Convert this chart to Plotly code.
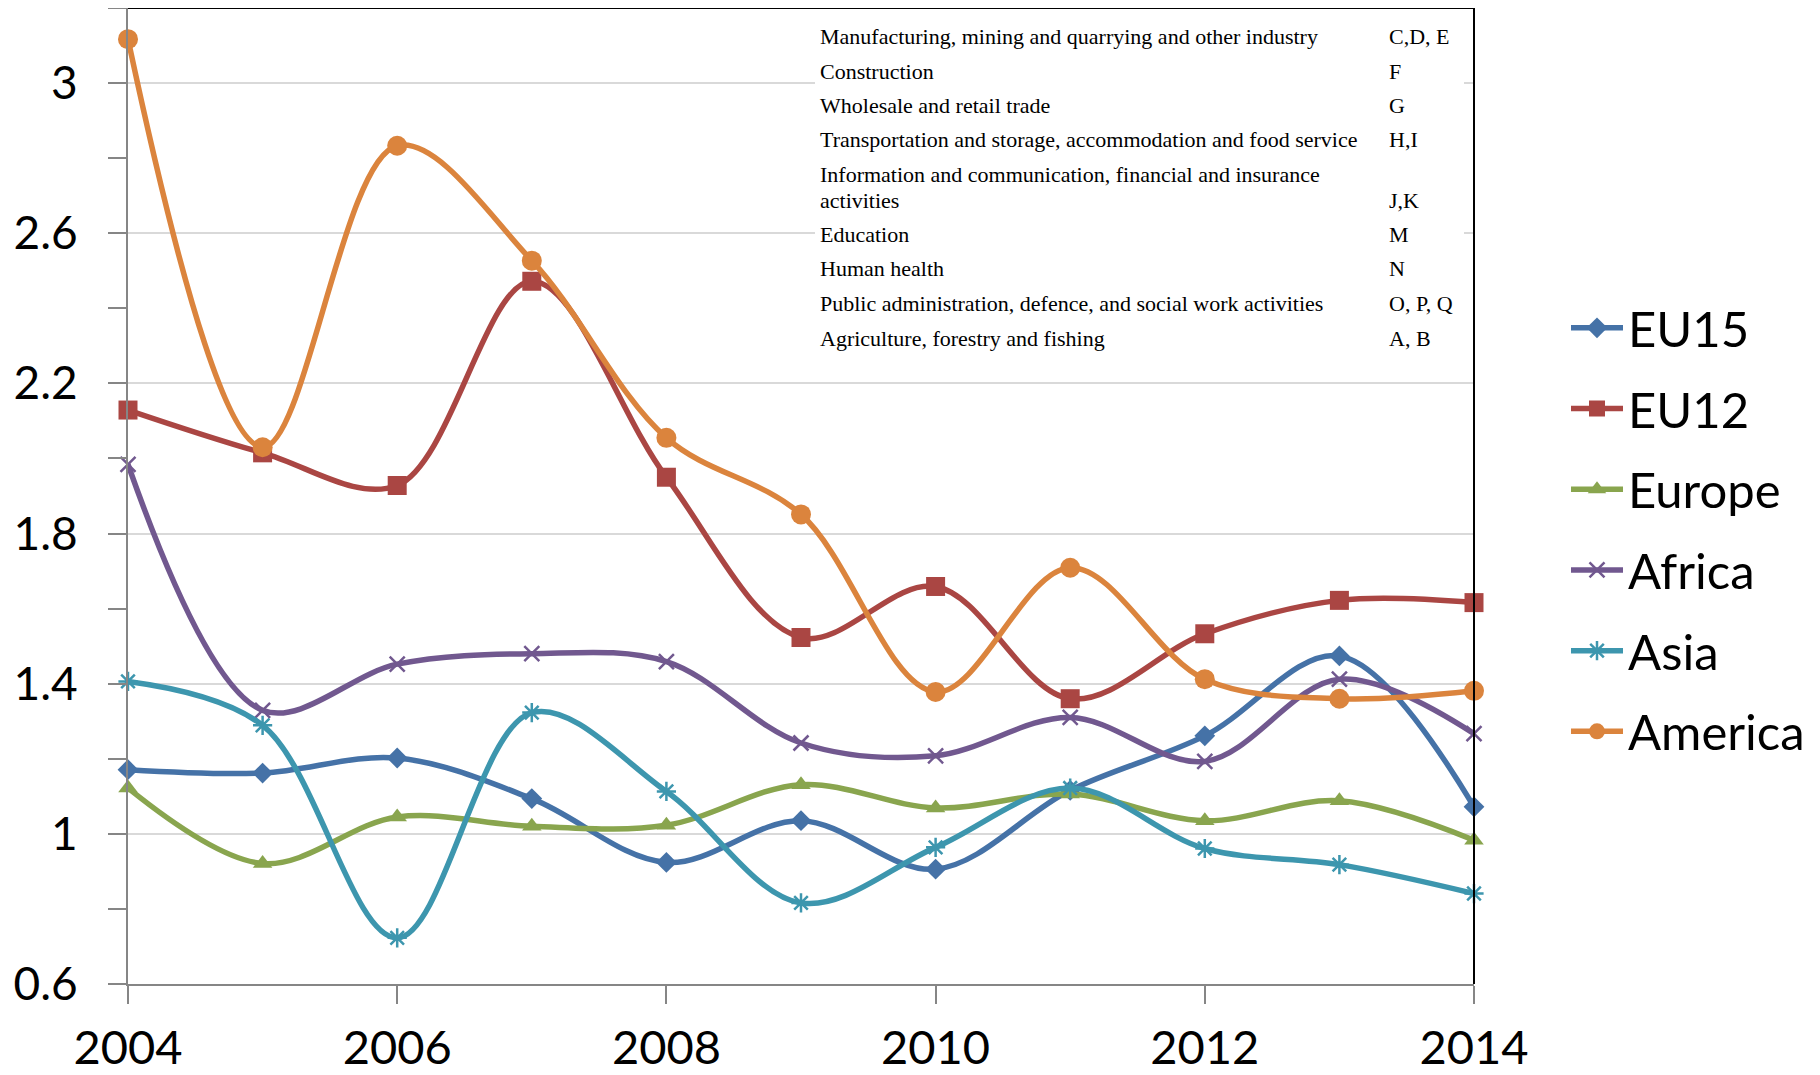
import plotly.graph_objects as go

years = [2004, 2005, 2006, 2007, 2008, 2009, 2010, 2011, 2012, 2013, 2014]

eu15 = [1.171, 1.162, 1.202, 1.094, 0.924, 1.035, 0.906, 1.116, 1.261, 1.474, 1.072]
eu12 = [2.129, 2.015, 1.928, 2.472, 1.950, 1.523, 1.659, 1.360, 1.533, 1.622, 1.616]
europe = [1.122, 0.921, 1.045, 1.020, 1.023, 1.131, 1.069, 1.106, 1.035, 1.088, 0.983]
africa = [1.984, 1.329, 1.452, 1.480, 1.459, 1.242, 1.208, 1.310, 1.193, 1.412, 1.267]
asia = [1.406, 1.289, 0.723, 1.323, 1.113, 0.816, 0.964, 1.122, 0.961, 0.918, 0.841]
america = [3.117, 2.030, 2.833, 2.527, 2.055, 1.851, 1.378, 1.709, 1.412, 1.360, 1.381]

series_names = ["EU15", "EU12", "Europe", "Africa", "Asia", "America"]
series_values = [eu15, eu12, europe, africa, asia, america]
colors = ["#4572A7", "#AA4643", "#89A54E", "#71588F", "#3D96AE", "#DB843D"]
symbols = ["diamond", "square", "triangle-up", "x-thin", "asterisk", "circle"]
sizes = [16, 19, 17, 15, 16, 20]

table_lines = [
    "Manufacturing, mining and quarrying and other industry",
    "Construction",
    "Wholesale and retail trade",
    "Transportation and storage, accommodation and food service",
    "Information and communication, financial and insurance",
    "activities",
    "Education",
    "Human health",
    "Public administration, defence, and social work activities",
    "Agriculture, forestry and fishing",
]
table_codes = ["C,D, E", "F", "G", "H,I", "", "J,K", "M", "N", "O, P, Q", "A, B"]

# page offset (browser body margin)
OFF = 8
W, H = 1820 - OFF, 1075 - OFF
L, R, T, B = 120, 346, 0, 91
pw, ph = W - L - R, H - T - B

def px_x(x):
    return (x - OFF - L) / pw

def px_y(y):
    return (H - B - (y - OFF)) / ph

fig = go.Figure()
for name, vals, c, s, sz in zip(series_names, series_values, colors, symbols, sizes):
    open_sym = s in ("x-thin", "asterisk")
    fig.add_trace(go.Scatter(
        x=years, y=vals, name=name, legendgroup=name,
        mode="lines+markers",
        line=dict(color=c, width=5.5, shape="spline", smoothing=1.0),
        marker=dict(symbol=s, size=sz, color=c,
                    line=dict(color=c, width=2.5 if open_sym else 0)),
        cliponaxis=False,
    ))

# table background box
fig.add_shape(type="rect", xref="paper", yref="paper",
              x0=px_x(815), x1=px_x(1464), y0=px_y(355), y1=px_y(14),
              fillcolor="white", line=dict(width=0), layer="above")
# black frame top/right
fig.add_shape(type="line", xref="paper", yref="paper", x0=0, x1=1, y0=1, y1=1,
              line=dict(color="black", width=2))
fig.add_shape(type="line", xref="paper", yref="paper", x0=1, x1=1, y0=0, y1=1,
              line=dict(color="black", width=2))

row_y = [37, 72, 106, 140, 175, 200, 234, 268, 303, 338]
for txt, code, ys in zip(table_lines, table_codes, row_y):
    fig.add_annotation(text=txt, xref="paper", yref="paper", x=px_x(818), y=px_y(ys),
                       xanchor="left", yanchor="middle", align="left", showarrow=False,
                       font=dict(family="Liberation Serif", size=22, color="black"))
    if code:
        fig.add_annotation(text=code, xref="paper", yref="paper", x=px_x(1387), y=px_y(ys),
                           xanchor="left", yanchor="middle", align="left", showarrow=False,
                           font=dict(family="Liberation Serif", size=22, color="black"))

fig.update_layout(
    width=W, height=H,
    margin=dict(l=L, r=R, t=T, b=B, pad=0, autoexpand=False),
    plot_bgcolor="white", paper_bgcolor="white",
    font=dict(family="Lato", color="black"),
    legend=dict(x=px_x(1566), y=px_y(530), xanchor="left", yanchor="middle",
                font=dict(family="Lato", size=49, color="black"),
                tracegroupgap=14, itemwidth=52, bgcolor="rgba(0,0,0,0)"),
    xaxis=dict(range=[2004, 2014], tick0=2004, dtick=2, showgrid=False,
               showline=True, linecolor="#868686", linewidth=2,
               ticks="outside", ticklen=18, tickcolor="#868686", tickwidth=1.5,
               tickfont=dict(family="Lato", size=47, color="black"),
               ticklabelstandoff=4, zeroline=False, automargin=False),
    yaxis=dict(range=[0.6, 3.2], tick0=0.6, dtick=0.4, showgrid=True,
               gridcolor="#D9D9D9", gridwidth=2,
               showline=True, linecolor="#868686", linewidth=2,
               ticks="outside", ticklen=18, tickcolor="#868686", tickwidth=1.5,
               minor=dict(dtick=0.2, tick0=0.6, ticks="outside", ticklen=18,
                          tickcolor="#868686", tickwidth=1.5, showgrid=False),
               tickfont=dict(family="Lato", size=46, color="black"),
               ticklabelstandoff=21, zeroline=False, automargin=False),
)

fig.write_html("out.html")
